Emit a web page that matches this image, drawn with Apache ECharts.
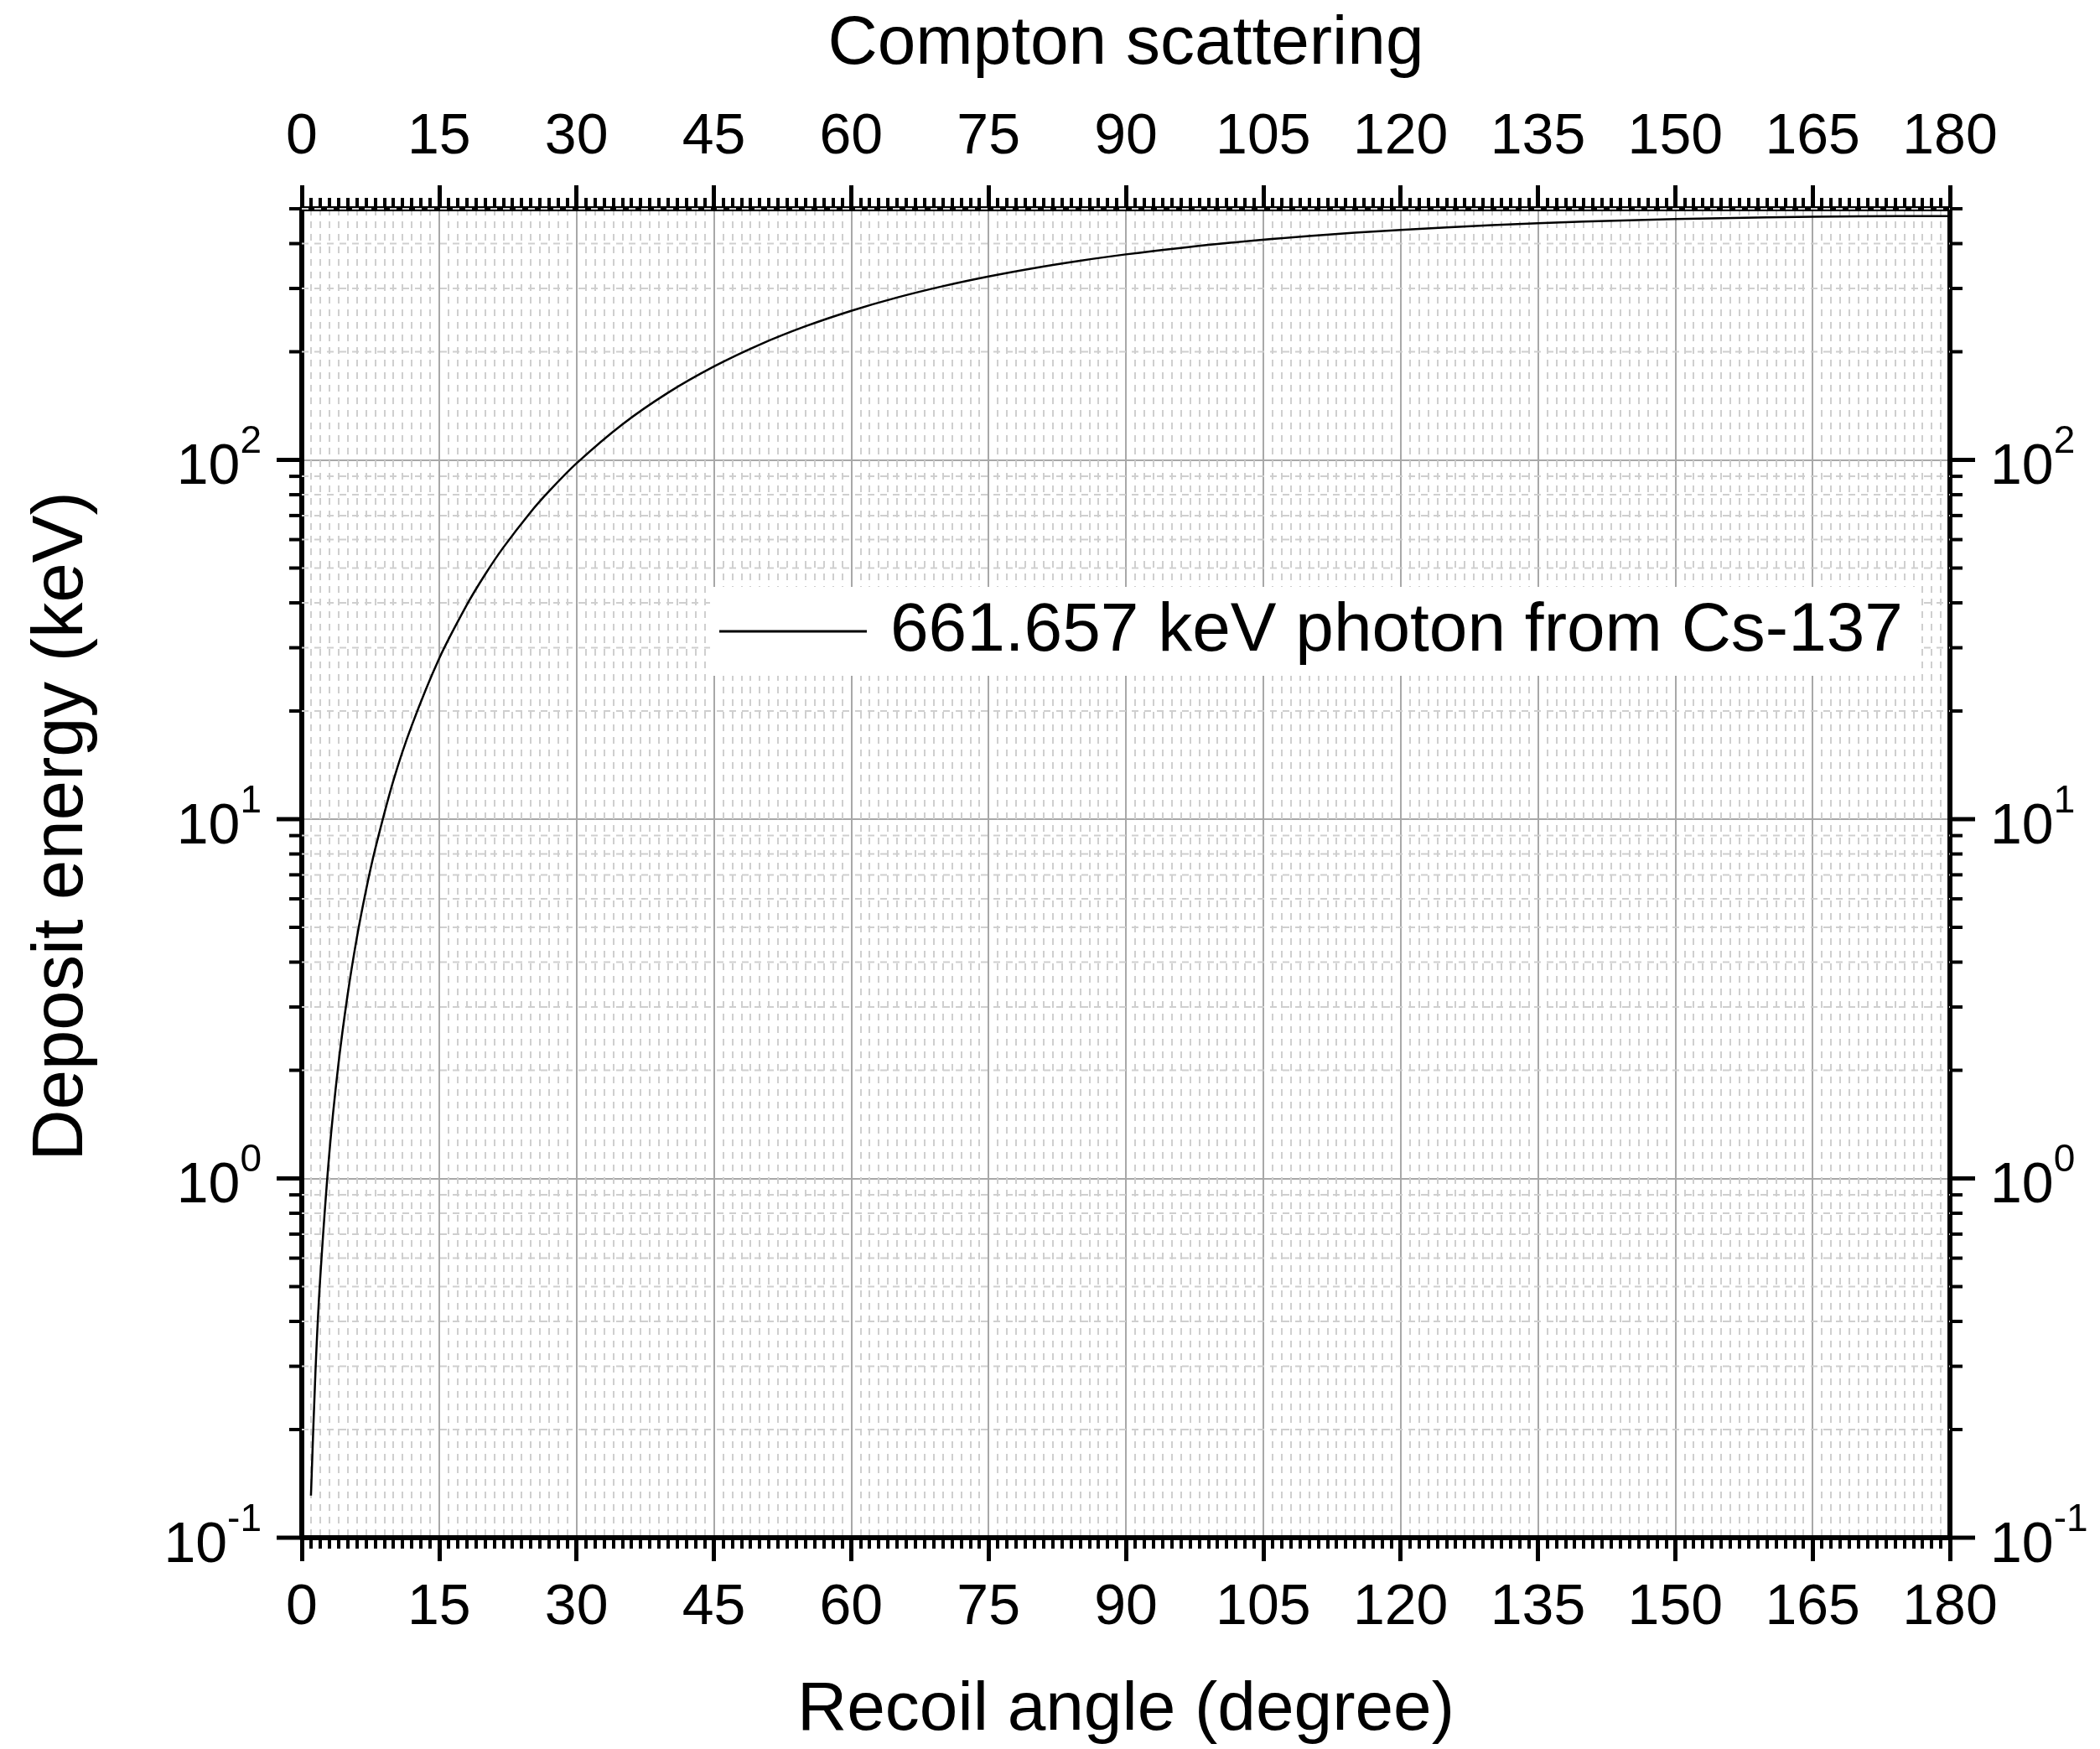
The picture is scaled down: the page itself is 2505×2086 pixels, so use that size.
<!DOCTYPE html>
<html><head><meta charset="utf-8">
<script src="https://cdn.jsdelivr.net/npm/echarts@6/dist/echarts.min.js"></script>
<style>html,body{margin:0;padding:0;background:#fff}#c{width:2505px;height:2086px}</style>
</head><body><div id="c"></div>
<script>
// Recoil (scattering) angle in degrees
const angles = [1,1.5,2,3,4,5,6,7,8,10,12,15,18,20,22,25,27,30,35,40,45,50,55,60,65,70,75,80,85,90,100,110,120,130,140,150,160,170,180];
// Deposit energy in keV
const energies = [0.131,0.293,0.522,1.17,2.08,3.24,4.66,6.32,8.23,12.8,18.2,28.0,39.4,47.9,57.0,71.6,81.8,97.8,125.5,153.8,181.9,209.3,235.4,260.0,283.1,304.4,324.0,342.0,358.4,373.3,399.1,420.0,436.8,450.1,460.4,468.0,473.2,476.3,477.3];
const seriesName = '661.657 keV photon from Cs-137';
const xTitle = 'Recoil angle (degree)';
const xTopTitle = 'Compton scattering';
const yTitle = 'Deposit energy (keV)';
const yMajorExponents = [-1, 0, 1, 2];
const yMin = 0.1, yMax = 500;
const xMin = 0, xMax = 180, xStep = 15;

const FONT = '"Liberation Sans", Arial, sans-serif';
const chart = echarts.init(document.getElementById('c'), null, {renderer: 'canvas'});

function yLabel(v) {
  const lg = Math.log10(v);
  const e = Math.round(lg);
  if (Math.abs(lg - e) > 1e-6) return '';
  return '{b|10}{s|' + e + '}';
}
const rich = {
  b: {fontSize: 68, lineHeight: 88, verticalAlign: 'bottom', color: '#000', fontFamily: FONT},
  s: {fontSize: 46, verticalAlign: 'top', color: '#000', fontFamily: FONT}
};

function xAxisCfg(pos, withGrid, name, gap, margin) {
  return {
    type: 'value', position: pos, min: xMin, max: xMax, interval: xStep,
    axisLine: {show: true, onZero: false, lineStyle: {color: '#000', width: 6}},
    axisTick: {show: true, inside: false, length: 28, lineStyle: {color: '#000', width: 5}},
    minorTick: {show: true, splitNumber: 15, length: 13, lineStyle: {color: '#000', width: 4}},
    axisLabel: {fontSize: 68, color: '#000', fontFamily: FONT, margin: margin},
    splitLine: {show: withGrid, lineStyle: {color: '#a8a8a8', width: 2}},
    minorSplitLine: {show: withGrid, lineStyle: {color: '#cfcfcf', width: 2, type: [8, 7]}},
    name: name, nameLocation: 'middle', nameGap: gap,
    nameTextStyle: {fontSize: 82, color: '#000', fontFamily: FONT}
  };
}
function yAxisCfg(pos, withGrid, name) {
  return {
    type: 'log', logBase: 10, position: pos, min: yMin, max: yMax,
    axisLine: {show: true, onZero: false, lineStyle: {color: '#000', width: 6}},
    axisTick: {show: false},
    minorTick: {show: false},
    axisLabel: {formatter: yLabel, rich: rich, margin: 48},
    splitLine: {show: withGrid, lineStyle: {color: '#a8a8a8', width: 2}},
    name: name, nameLocation: 'middle', nameGap: 243,
    nameTextStyle: {fontSize: 85, color: '#000', fontFamily: FONT, padding: [0, 0, 0, 112]}
  };
}

chart.setOption({
  animation: false,
  backgroundColor: '#fff',
  grid: {left: 360, right: 179, top: 249, bottom: 250, containLabel: false},
  xAxis: [
    xAxisCfg('bottom', true, xTitle, 165, 50),
    xAxisCfg('top', false, xTopTitle, 155, 51)
  ],
  yAxis: [
    yAxisCfg('left', true, yTitle),
    yAxisCfg('right', false, '')
  ],
  legend: {
    show: true, left: 847, top: 700, orient: 'horizontal',
    backgroundColor: '#fff', padding: [12, 18, 12, 11],
    itemWidth: 176, itemHeight: 3, icon: 'rect',
    textStyle: {fontSize: 82, color: '#000', fontFamily: FONT, padding: [0, 0, 0, 23]},
    data: [{name: seriesName, icon: 'rect'}]
  },
  series: [{
    name: seriesName, type: 'line', xAxisIndex: 0, yAxisIndex: 0,
    data: angles.map((a, i) => [a, energies[i]]),
    showSymbol: false, symbol: 'none', smooth: 0.3,
    color: '#000',
    lineStyle: {color: '#000', width: 2.5},
    z: 3
  }]
});

// Minor log ticks and minor horizontal grid, positioned through the y-axis scale
const gx0 = chart.convertToPixel({xAxisIndex: 0}, xMin);
const gx1 = chart.convertToPixel({xAxisIndex: 0}, xMax);
const elems = [];
for (const e of yMajorExponents) {
  for (let m = 1; m <= 9; m++) {
    const v = m * Math.pow(10, e);
    if (v < yMin * 0.999 || v > yMax * 1.001) continue;
    const py = chart.convertToPixel({yAxisIndex: 0}, v);
    const major = m === 1;
    const len = major ? 30 : 15;
    const lw = major ? 5 : 4;
    elems.push({type: 'line', z: 10, silent: true,
      shape: {x1: gx0 - len, y1: py, x2: gx0, y2: py}, style: {stroke: '#000', lineWidth: lw}});
    elems.push({type: 'line', z: 10, silent: true,
      shape: {x1: gx1, y1: py, x2: gx1 + len, y2: py}, style: {stroke: '#000', lineWidth: lw}});
    if (!major) {
      elems.push({type: 'line', z: 1, silent: true,
        shape: {x1: gx0, y1: py, x2: gx1, y2: py},
        style: {stroke: '#cfcfcf', lineWidth: 2, lineDash: [8, 7]}});
    }
  }
}
chart.setOption({graphic: {elements: elems}});
</script>
</body></html>
